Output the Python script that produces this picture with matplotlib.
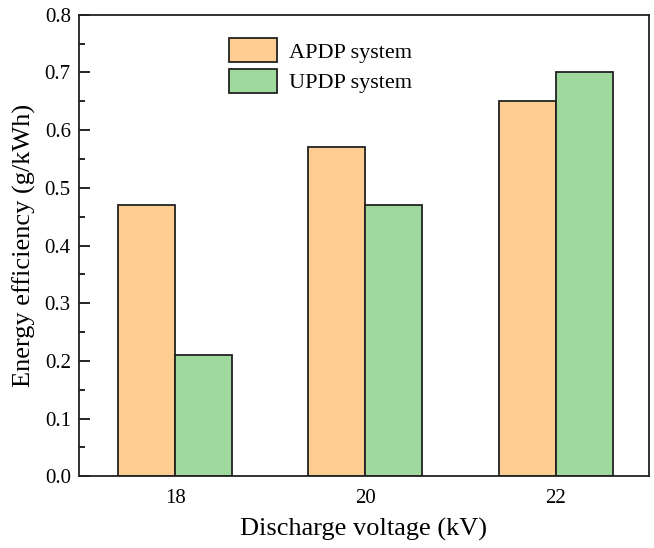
import matplotlib
matplotlib.use("Agg")
import matplotlib.pyplot as plt
import numpy as np

voltages = ["18", "20", "22"]
apdp = [0.47, 0.57, 0.65]
updp = [0.21, 0.47, 0.70]

plt.rcParams['font.family'] = ['Liberation Serif', 'DejaVu Serif']

fig = plt.figure(figsize=(6.54, 5.48), dpi=100)
ax = fig.add_axes([0.121, 0.131, 0.871, 0.842])

x = np.arange(len(voltages))
w = 0.3
ax.bar(x - w / 2, apdp, w, color='#FDCD92', edgecolor='#222222', linewidth=1.3, label='APDP system')
ax.bar(x + w / 2, updp, w, color='#A0D99E', edgecolor='#222222', linewidth=1.3, label='UPDP system')

ax.set_xlim(-0.505, 2.49)
ax.set_ylim(0, 0.8)
ax.set_xticks(x)
ax.set_xticklabels(voltages)
ax.set_yticks(np.arange(0, 0.81, 0.1))
ax.set_yticklabels([f"{v:.1f}" for v in np.arange(0, 0.81, 0.1)])
ax.set_yticks(np.arange(0.05, 0.8, 0.1), minor=True)
ax.tick_params(axis='y', which='major', direction='in', length=8, width=1.2, labelsize=15, pad=6)
ax.tick_params(axis='y', which='minor', direction='in', length=4, width=1.2)
ax.tick_params(axis='x', which='major', length=0, labelsize=15, pad=9)
for s in ax.spines.values():
    s.set_linewidth(1.3)
    s.set_color('#222222')

ax.set_xlabel('Discharge voltage (kV)', fontsize=19, labelpad=7)
ax.set_ylabel('Energy efficiency (g/kWh)', fontsize=19, labelpad=6)

ax.legend(loc='upper left', bbox_to_anchor=(0.228, 0.993), frameon=False, fontsize=16,
          handlelength=2.15, handleheight=1.3, labelspacing=0.28, handletextpad=0.55)

fig.savefig('out.png', dpi=100)
